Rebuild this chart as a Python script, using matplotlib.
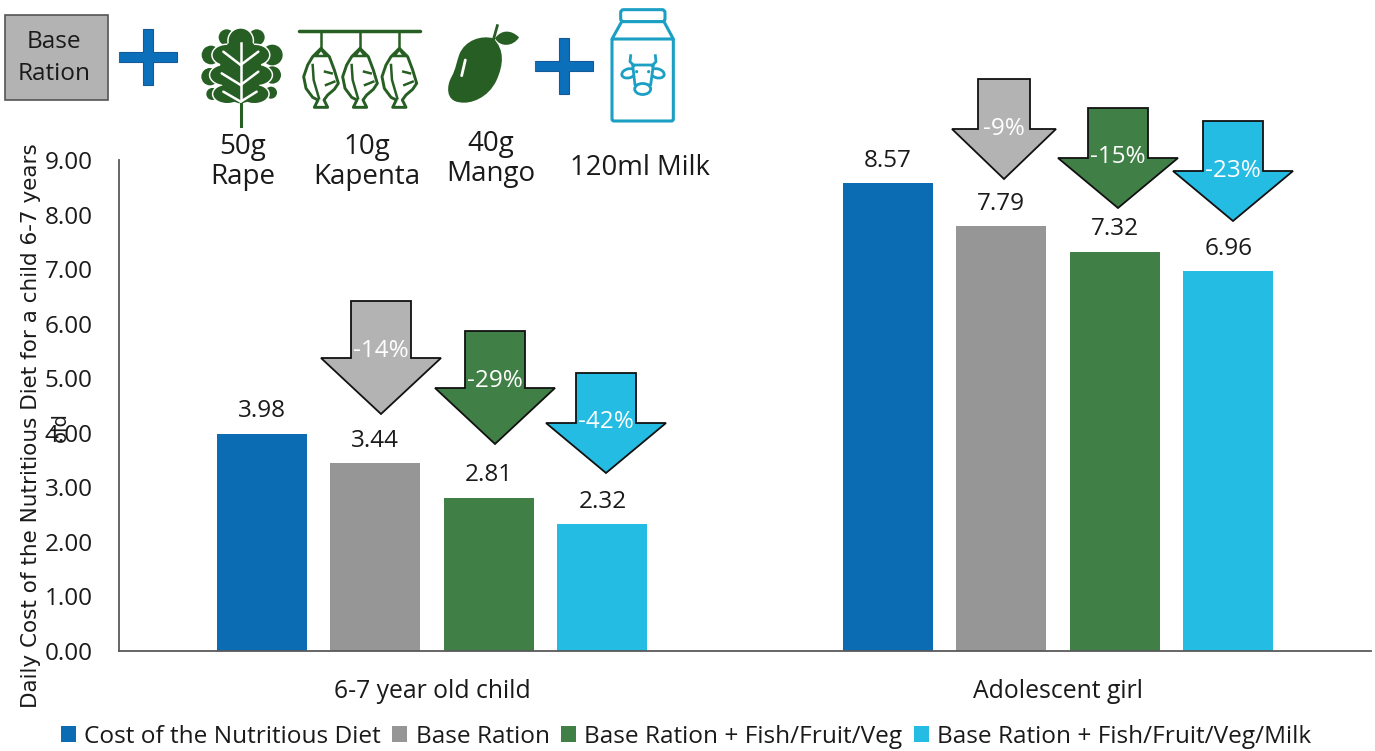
import matplotlib
matplotlib.use('Agg')
import matplotlib.pyplot as plt
import numpy as np
from matplotlib.patches import Circle, Ellipse, FancyBboxPatch, PathPatch, Polygon, Rectangle
from matplotlib.path import Path

plt.rcParams['font.family'] = ['Open Sans', 'DejaVu Sans']

groups = ['6-7 year old child', 'Adolescent girl']
series = ['Cost of the Nutritious Diet', 'Base Ration', 'Base Ration + Fish/Fruit/Veg',
          'Base Ration + Fish/Fruit/Veg/Milk']
child = [3.98, 3.44, 2.81, 2.32]
girl = [8.57, 7.79, 7.32, 6.96]
yticks = [0, 1, 2, 3, 4, 5, 6, 7, 8, 9]
child_change = ['-14%', '-29%', '-42%']
girl_change = ['-9%', '-15%', '-23%']
foods = ['50g\nRape', '10g\nKapenta', '40g\nMango', '120ml Milk']

colors = ['#0B6CB3', '#969696', '#407F45', '#25BCE3']
arrow_colors = ['#B3B3B3', '#407F45', '#25BCE3']
dark_green = '#265E23'
teal = '#1BA0C4'
txt = '#1A1A1A'
FS = 17.5

W, H = 1375, 751
fig = plt.figure(figsize=(W / 100, H / 100), dpi=100)
ax = fig.add_axes([119 / W, 1 - 651 / H, (1371 - 119) / W, (651 - 160) / H])

width = 0.1438
step = 0.1815
for i, name in enumerate(series):
    xs = np.arange(2) + (i - 1.5) * step
    vals = [child[i], girl[i]]
    bars = ax.bar(xs, vals, width, color=colors[i], label=name)
    ax.bar_label(bars, fmt='%.2f', padding=7.5, fontsize=FS, color=txt)

ax.set_xlim(-0.5, 1.5)
ax.set_ylim(0, 9)
ax.set_yticks(yticks)
ax.set_yticklabels(['%.2f' % v for v in yticks], fontsize=FS, color=txt)
ax.set_xticks([0, 1])
ax.set_xticklabels(groups, fontsize=17.8, color=txt)
ax.tick_params(axis='y', length=0, pad=19)
ax.tick_params(axis='x', length=0, pad=20)
for s in ['top', 'right']:
    ax.spines[s].set_visible(False)
for s in ['left', 'bottom']:
    ax.spines[s].set_color('#595959')
    ax.spines[s].set_linewidth(1.3)

handles, labels = ax.get_legend_handles_labels()
fig.legend(handles, labels, loc='center', bbox_to_anchor=(686 / W, 1 - 737 / H), ncol=4, frameon=False,
           fontsize=17.6, handlelength=0.62, handleheight=0.62, handletextpad=0.35, columnspacing=0.45,
           labelcolor=txt)

# overlay in picture pixels for the icons and arrows
ov = fig.add_axes([0, 0, 1, 1], zorder=5)
ov.set_xlim(0, W)
ov.set_ylim(H, 0)
ov.axis('off')

ov.text(31, 426, 'Daily Cost of the Nutritious Diet for a child 6-7 years', rotation=90, ha='center',
        va='center', fontsize=15.5, family='DejaVu Sans', color=txt)
ov.text(60, 427, 'old', rotation=90, ha='center', va='center', fontsize=14, family='DejaVu Sans', color=txt)


def down_arrow(cx, top, head, tip, half, wing, col, label, label_y):
    pts = [(cx - half, top), (cx + half, top), (cx + half, head), (cx + wing, head), (cx, tip),
           (cx - wing, head), (cx - half, head)]
    ov.add_patch(Polygon(pts, closed=True, fc=col, ec='#111111', lw=1.3, joinstyle='miter'))
    ov.text(cx, label_y, label, color='white', ha='center', va='center', fontsize=FS)


down_arrow(381, 301, 358, 414, 30, 60, arrow_colors[0], child_change[0], 351)
down_arrow(495, 331, 388, 444, 30, 60, arrow_colors[1], child_change[1], 381)
down_arrow(606, 373, 423, 473, 30, 60, arrow_colors[2], child_change[2], 422)
down_arrow(1004, 79, 129, 179, 26, 52, arrow_colors[0], girl_change[0], 129)
down_arrow(1118, 108, 158, 208, 30, 60, arrow_colors[1], girl_change[1], 157)
down_arrow(1233, 121, 171, 221, 30, 60, arrow_colors[2], girl_change[2], 171)

# base ration box
ov.add_patch(Rectangle((5, 15), 103, 85, fc='#B3B3B3', ec='#555555', lw=1.2))
ov.text(54, 58, 'Base\nRation', ha='center', va='center', fontsize=17.6, color=txt, linespacing=1.4)


def plus(cx, cy):
    ov.add_patch(Rectangle((cx - 29, cy - 5), 58, 10, fc='#0B6FBA', ec='#155A96', lw=0.8))
    ov.add_patch(Rectangle((cx - 5, cy - 28), 10, 56, fc='#0B6FBA', ec='#155A96', lw=0.8))
    ov.add_patch(Rectangle((cx - 28.5, cy - 4.5), 57, 9, fc='#0B6FBA', ec='none'))


plus(148, 57)
plus(564, 66)


def lx(x):
    return 195 + x / 3


def ly(y):
    return 20 + y / 3


for x, y, r in [(95, 52, 24), (185, 52, 24), (48, 105, 28), (232, 105, 31), (45, 170, 26), (232, 165, 26),
                (52, 222, 18), (228, 218, 18)]:
    ov.add_patch(Circle((lx(x), ly(y)), r / 3, fc=dark_green, ec='none'))
inner = [(137, 62, 36, 36), (95, 105, 42, 30), (180, 105, 42, 30), (92, 165, 46, 30), (184, 165, 46, 30),
         (97, 222, 42, 27), (178, 222, 42, 27)]
for x, y, a, b in inner:
    ov.add_patch(Ellipse((lx(x), ly(y)), 2 * a / 3 + 3, 2 * b / 3 + 3, fc='white', ec='none'))
for x, y, a, b in inner + [(137, 150, 62, 100)]:
    ov.add_patch(Ellipse((lx(x), ly(y)), 2 * a / 3, 2 * b / 3, fc=dark_green, ec='none'))
ov.plot([lx(137), lx(137)], [ly(70), ly(262)], color='white', lw=1.8)
ov.plot([lx(137), lx(137)], [ly(250), ly(318)], color=dark_green, lw=2.2)
for a, b, c, d in [(137, 135, 85, 95), (137, 135, 190, 95), (137, 195, 80, 160), (137, 195, 190, 155),
                   (137, 245, 85, 215), (137, 245, 185, 215)]:
    ov.plot([lx(a), lx(c)], [ly(b), ly(d)], color='white', lw=1.8, solid_capstyle='round')

# kapenta
ov.plot([lx(312), lx(675)], [ly(32), ly(32)], color=dark_green, lw=2.5, solid_capstyle='round')


def fish(x0):
    def q(dx, y):
        return (lx(x0 + dx), ly(y))
    ov.plot([lx(x0), lx(x0)], [ly(32), ly(85)], color=dark_green, lw=1.8)
    verts = [q(0, 85), q(25, 110), q(40, 150), q(52, 190), q(40, 208), q(20, 225), q(9, 240), q(20, 262),
             q(-20, 262), q(-9, 240), q(-25, 232), q(-45, 205), q(-52, 170), q(-40, 135), q(-25, 110)]
    ov.add_patch(Polygon(verts, closed=True, fc='white', ec=dark_green, lw=2.1, joinstyle='round'))
    ov.add_patch(Polygon([q(0, 88), q(15, 108), q(-15, 108)], closed=True, fc='white', ec=dark_green, lw=1.8))
    ov.plot(*zip(q(-25, 135), q(-22, 180), q(-6, 235)), color=dark_green, lw=1.8)
    ov.plot(*zip(q(12, 155), q(32, 160)), color=dark_green, lw=1.8)
    ov.plot(*zip(q(15, 195), q(40, 185)), color=dark_green, lw=1.8)


for x0 in [378, 495, 613]:
    fish(x0)


# mango and milk
def mx(x):
    return 440 + x / 3


def my(y):
    return 5 + y / 3


def curve(pts):
    v = [(mx(a), my(b)) for a, b in pts]
    codes = [Path.MOVETO] + [Path.CURVE4] * (len(v) - 1)
    return Path(v, codes)


ov.add_patch(PathPatch(curve([(160, 100), (195, 135), (190, 180), (170, 225), (145, 280), (90, 298), (60, 292),
                              (15, 288), (20, 240), (35, 215), (48, 190), (50, 170), (58, 148), (75, 105),
                              (125, 90), (160, 100)]), fc=dark_green, ec='none'))
ov.add_patch(PathPatch(curve([(165, 100), (185, 72), (215, 75), (237, 97), (220, 125), (180, 128), (165, 100)]),
                       fc=dark_green, ec='none'))
ov.plot([mx(160), mx(172)], [my(105), my(62)], color=dark_green, lw=2)
ov.plot([mx(76), mx(65)], [my(165), my(212)], color='white', lw=2, solid_capstyle='round')

ov.add_patch(FancyBboxPatch((mx(542), my(14)), 133 / 3, 36 / 3, boxstyle='round,pad=0,rounding_size=3',
                            fc='white', ec=teal, lw=2.2))
ov.add_patch(FancyBboxPatch((mx(516), my(100)), 184 / 3, 248 / 3, boxstyle='round,pad=0,rounding_size=2',
                            fc='white', ec=teal, lw=2.2))
ov.add_patch(Polygon([(mx(545), my(50)), (mx(516), my(102)), (mx(700), my(102)), (mx(672), my(50))], closed=True,
                     fc='white', ec=teal, lw=2.2, joinstyle='round'))
ov.add_patch(Ellipse((mx(566), my(205)), 14, 9, angle=-15, fc='white', ec=teal, lw=2))
ov.add_patch(Ellipse((mx(652), my(205)), 14, 9, angle=15, fc='white', ec=teal, lw=2))
ov.add_patch(Polygon([(mx(578), my(180)), (mx(640), my(180)), (mx(632), my(240)), (mx(585), my(240))], closed=True,
                     fc='white', ec=teal, lw=2, joinstyle='round'))
ov.add_patch(Ellipse((mx(608), my(252)), 16, 11, fc='white', ec=teal, lw=2))
ov.plot([mx(572), mx(570), mx(582)], [my(152), my(170), my(182)], color=teal, lw=2)
ov.plot([mx(646), mx(648), mx(636)], [my(152), my(170), my(182)], color=teal, lw=2)
ov.add_patch(Circle((mx(590), my(200)), 1.6, fc=teal, ec='none'))
ov.add_patch(Circle((mx(626), my(200)), 1.6, fc=teal, ec='none'))

# food captions
ov.text(243, 162, foods[0], ha='center', va='center', fontsize=20, color=txt, linespacing=1.13)
ov.text(367, 162, foods[1], ha='center', va='center', fontsize=20, color=txt, linespacing=1.13)
ov.text(491, 159, foods[2], ha='center', va='center', fontsize=20, color=txt, linespacing=1.13)
ov.text(640, 168, foods[3], ha='center', va='center', fontsize=19.8, color=txt)

fig.savefig('out.png', dpi=100)
